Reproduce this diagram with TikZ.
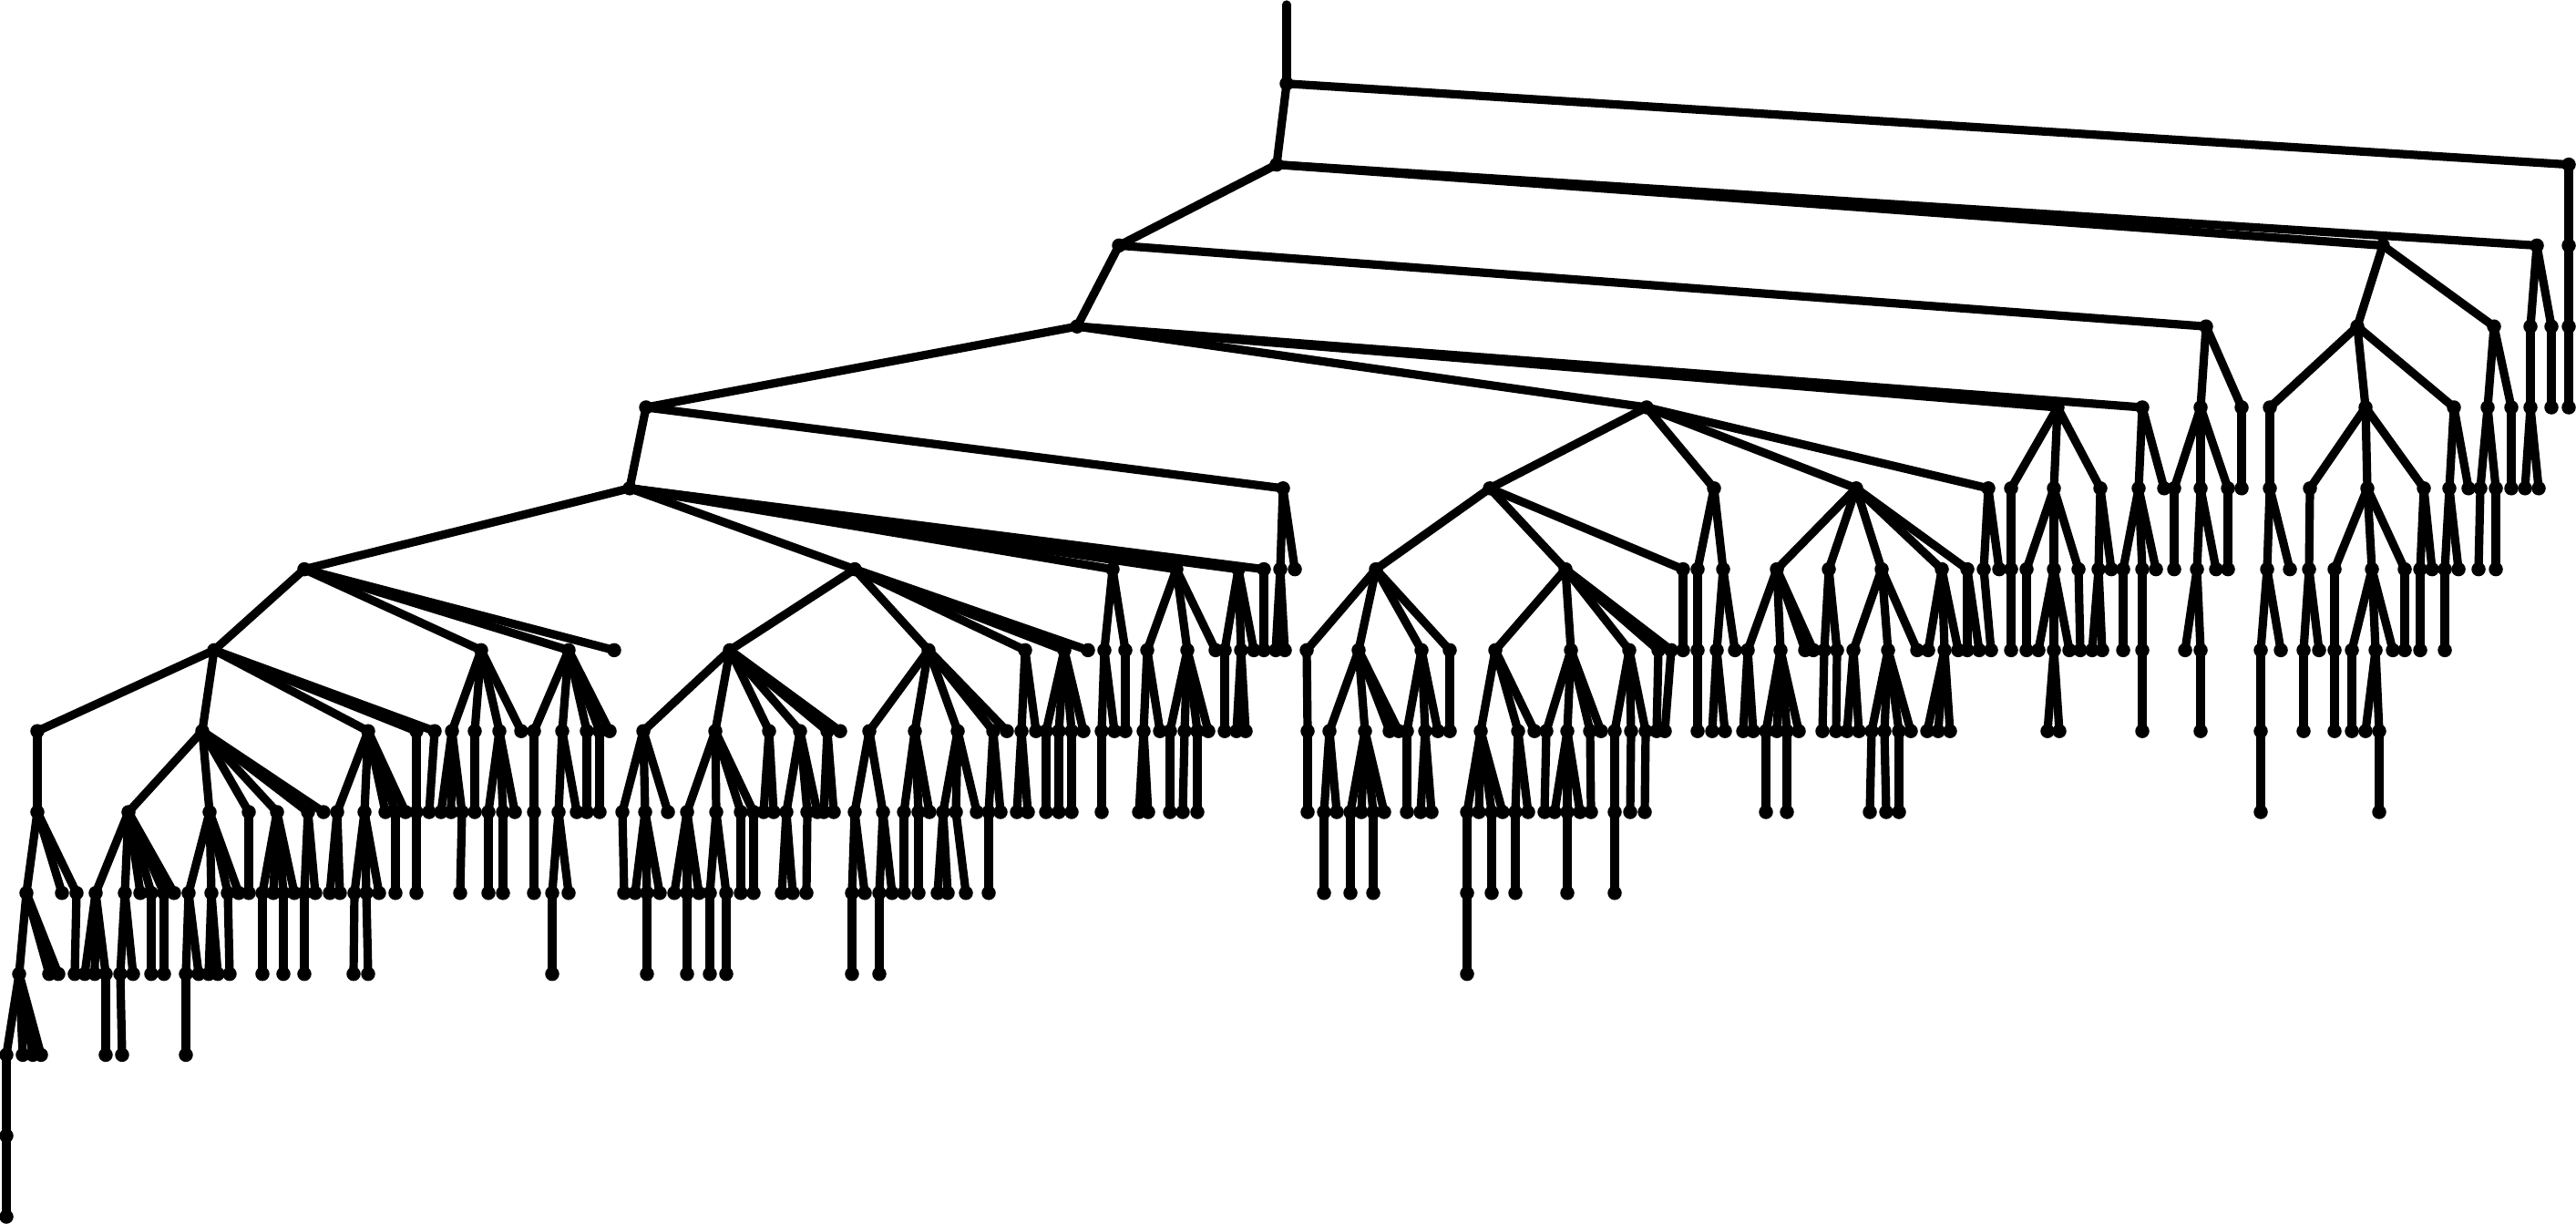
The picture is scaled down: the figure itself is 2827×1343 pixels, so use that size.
\documentclass[tikz,border=0pt]{standalone}
\begin{document}
\tikzset{
  dot/.style={circle,fill=black,inner sep=0pt,minimum size=0.155cm},
  edge/.style={line width=0.092cm,line cap=round,black}
}
\newcommand\kids[3]{%
  \pgfmathtruncatemacro\lvchild{#1+1}%
  \foreach \c in {#3}{%
    \node[dot] (n\lvchild-\c) at (\c,{3+88.8*\lvchild}) {};
    \draw[edge] (n#1-#2.center) -- (n\lvchild-\c.center);
  }%
}
\begin{tikzpicture}[x=0.01cm,y=-0.01cm]
\useasboundingbox (0,0) rectangle (2827,1343);
\coordinate (n0-1412) at (1412,5);
\kids{0}{1412}{1412}
\kids{1}{1412}{1401,2819}
\kids{2}{1401}{1228,2615,2784}
\kids{2}{2819}{2819}
\kids{3}{1228}{1182,2421}
\kids{3}{2615}{2587,2737}
\kids{3}{2784}{2777,2800}
\kids{3}{2819}{2819}
\kids{4}{1182}{709,1807,2258,2351}
\kids{4}{2421}{2415,2460}
\kids{4}{2587}{2491,2596,2693}
\kids{4}{2737}{2730,2756}
\kids{4}{2777}{2777}
\kids{4}{2800}{2800}
\kids{4}{2819}{2819}
% level 5
\kids{5}{709}{691,1408}
\kids{5}{1807}{1635,1881,2037,2182}
\kids{5}{2258}{2207,2254,2305}
\kids{5}{2351}{2347,2375}
\kids{5}{2415}{2386,2415,2445}
\kids{5}{2460}{2460}
\kids{5}{2491}{2491}
\kids{5}{2596}{2535,2598,2660}
\kids{5}{2693}{2688,2709}
\kids{5}{2730}{2722,2739}
\kids{5}{2756}{2756}
\kids{5}{2777}{2771,2786}
% level 6
\kids{6}{691}{334,938,1221,1291,1359,1387}
\kids{6}{1408}{1405,1421}
\kids{6}{1635}{1510,1718,1847}
\kids{6}{1881}{1863,1891}
\kids{6}{2037}{1950,2007,2065,2131,2159}
\kids{6}{2182}{2177,2194}
\kids{6}{2207}{2207}
\kids{6}{2254}{2224,2254,2281}
\kids{6}{2305}{2303,2317}
\kids{6}{2347}{2330,2351,2366}
\kids{6}{2386}{2386}
\kids{6}{2415}{2411,2432}
\kids{6}{2445}{2445}
\kids{6}{2491}{2488,2513}
\kids{6}{2535}{2534}
\kids{6}{2598}{2562,2603,2639}
\kids{6}{2660}{2656,2669}
\kids{6}{2688}{2683,2698}
\kids{6}{2722}{2720}
\kids{6}{2739}{2739}
% level 7
\kids{7}{334}{235,528,624,674}
\kids{7}{938}{801,1019,1125,1168,1194}
\kids{7}{1221}{1212,1235}
\kids{7}{1291}{1259,1303,1334}
\kids{7}{1359}{1344,1362,1376}
\kids{7}{1387}{1387}
\kids{7}{1405}{1400,1410}
\kids{7}{1510}{1434,1491,1560,1591}
\kids{7}{1718}{1641,1724,1788,1820,1834}
\kids{7}{1847}{1847}
\kids{7}{1863}{1863}
\kids{7}{1891}{1884,1904}
\kids{7}{1950}{1918,1954,1981,1990}
\kids{7}{2007}{2002,2016}
\kids{7}{2065}{2034,2072,2104}
\kids{7}{2131}{2116,2134,2149}
\kids{7}{2159}{2159,2172}
\kids{7}{2177}{2185}
\kids{7}{2207}{2207}
\kids{7}{2224}{2224}
\kids{7}{2254}{2237,2254,2271}
\kids{7}{2281}{2283}
\kids{7}{2303}{2296,2307}
\kids{7}{2330}{2330}
\kids{7}{2351}{2351}
\kids{7}{2411}{2398,2415}
\kids{7}{2488}{2481,2503}
\kids{7}{2534}{2528,2545}
\kids{7}{2562}{2562}
\kids{7}{2603}{2581,2607,2626}
\kids{7}{2639}{2639}
\kids{7}{2656}{2656}
\kids{7}{2683}{2683}
% level 8
\kids{8}{235}{41,222,404,457,477}
\kids{8}{528}{496,521,548,572}
\kids{8}{624}{586,617,644,658,669}
\kids{8}{801}{706,785,844,878,908,922}
\kids{8}{1019}{954,1004,1051,1090,1105}
\kids{8}{1125}{1121,1137}
\kids{8}{1168}{1148,1162,1176,1189}
\kids{8}{1212}{1209,1223}
\kids{8}{1235}{1235}
\kids{8}{1259}{1255,1273}
\kids{8}{1303}{1284,1300,1314,1326}
\kids{8}{1344}{1344}
\kids{8}{1362}{1357,1367}
\kids{8}{1434}{1435}
\kids{8}{1491}{1459,1498,1525,1535}
\kids{8}{1560}{1544,1564,1578}
\kids{8}{1591}{1591}
\kids{8}{1641}{1625,1666,1684}
\kids{8}{1724}{1697,1720,1745,1757}
\kids{8}{1788}{1772,1790,1806}
\kids{8}{1820}{1818}
\kids{8}{1834}{1827}
\kids{8}{1863}{1863}
\kids{8}{1884}{1879,1893}
\kids{8}{1918}{1913,1924}
\kids{8}{1954}{1938,1950,1961,1974}
\kids{8}{2002}{2000}
\kids{8}{2016}{2015}
\kids{8}{2034}{2027,2040}
\kids{8}{2072}{2054,2068,2084,2097}
\kids{8}{2134}{2115,2127,2140}
\kids{8}{2254}{2247,2260}
\kids{8}{2351}{2351}
\kids{8}{2415}{2415}
\kids{8}{2481}{2481}
\kids{8}{2528}{2528}
\kids{8}{2562}{2562}
\kids{8}{2581}{2581}
\kids{8}{2607}{2596,2611}
% level 9
\kids{9}{41}{41}
\kids{9}{222}{141,230,273,304,338,355}
\kids{9}{404}{370,400,423,434,445}
\kids{9}{457}{457}
\kids{9}{477}{471}
\kids{9}{496}{484,495,507}
\kids{9}{521}{521}
\kids{9}{548}{536,552,565}
\kids{9}{586}{586}
\kids{9}{617}{613,633}
\kids{9}{644}{644}
\kids{9}{658}{658}
\kids{9}{706}{683,708,733}
\kids{9}{785}{754,786,813,827}
\kids{9}{844}{838,849}
\kids{9}{878}{863,886,897}
\kids{9}{908}{904,915}
\kids{9}{954}{938,969}
\kids{9}{1004}{992,1008,1020}
\kids{9}{1051}{1035,1049,1072}
\kids{9}{1090}{1085,1098}
\kids{9}{1121}{1116,1128}
\kids{9}{1148}{1148}
\kids{9}{1162}{1162}
\kids{9}{1176}{1176}
\kids{9}{1209}{1209}
\kids{9}{1255}{1250,1260}
\kids{9}{1284}{1284}
\kids{9}{1300}{1298}
\kids{9}{1314}{1314}
\kids{9}{1435}{1435}
\kids{9}{1459}{1453,1467}
\kids{9}{1498}{1482,1494,1507,1519}
\kids{9}{1544}{1544}
\kids{9}{1564}{1559,1571}
\kids{9}{1625}{1610,1623,1637,1649}
\kids{9}{1666}{1663,1677}
\kids{9}{1697}{1695}
\kids{9}{1720}{1706,1720,1734}
\kids{9}{1745}{1746}
\kids{9}{1772}{1772}
\kids{9}{1790}{1789}
\kids{9}{1806}{1805}
\kids{9}{1938}{1938}
\kids{9}{1961}{1961}
\kids{9}{2054}{2052}
\kids{9}{2068}{2070}
\kids{9}{2084}{2084}
\kids{9}{2481}{2481}
\kids{9}{2611}{2611}
% level 10
\kids{10}{41}{29,68,84}
\kids{10}{141}{105,137,154,166,180,191}
\kids{10}{230}{207,232,250,262}
\kids{10}{273}{273}
\kids{10}{304}{288,300,311,323}
\kids{10}{338}{334,346}
\kids{10}{370}{362,373}
\kids{10}{400}{389,402,416}
\kids{10}{434}{434}
\kids{10}{457}{457}
\kids{10}{507}{505}
\kids{10}{536}{536}
\kids{10}{552}{552}
\kids{10}{586}{586}
\kids{10}{613}{606,624}
\kids{10}{683}{685}
\kids{10}{708}{697,710,724}
\kids{10}{754}{740,754,767}
\kids{10}{786}{779,797}
\kids{10}{813}{813}
\kids{10}{827}{827}
\kids{10}{863}{858,870}
\kids{10}{886}{885}
\kids{10}{938}{935,949}
\kids{10}{969}{965,979}
\kids{10}{992}{992}
\kids{10}{1008}{1008}
\kids{10}{1035}{1029,1040}
\kids{10}{1049}{1060}
\kids{10}{1085}{1085}
\kids{10}{1453}{1453}
\kids{10}{1482}{1482}
\kids{10}{1507}{1507}
\kids{10}{1610}{1610}
\kids{10}{1637}{1637}
\kids{10}{1663}{1663}
\kids{10}{1720}{1720}
\kids{10}{1772}{1772}
% level 11
\kids{11}{29}{21,54,64}
\kids{11}{84}{82}
\kids{11}{105}{93,104,116}
\kids{11}{137}{132,146}
\kids{11}{166}{166}
\kids{11}{180}{180}
\kids{11}{207}{204,218}
\kids{11}{232}{229,239}
\kids{11}{250}{252}
\kids{11}{288}{288}
\kids{11}{311}{311}
\kids{11}{334}{334}
\kids{11}{389}{388}
\kids{11}{402}{404}
\kids{11}{606}{606}
\kids{11}{710}{710}
\kids{11}{754}{754}
\kids{11}{779}{779}
\kids{11}{797}{797}
\kids{11}{935}{935}
\kids{11}{965}{965}
\kids{11}{1610}{1610}
% level 12 and below
\kids{12}{21}{7,25,36,45}
\kids{12}{116}{116}
\kids{12}{132}{134}
\kids{12}{204}{204}
\kids{13}{7}{7}
\kids{14}{7}{7}
\end{tikzpicture}
\end{document}
